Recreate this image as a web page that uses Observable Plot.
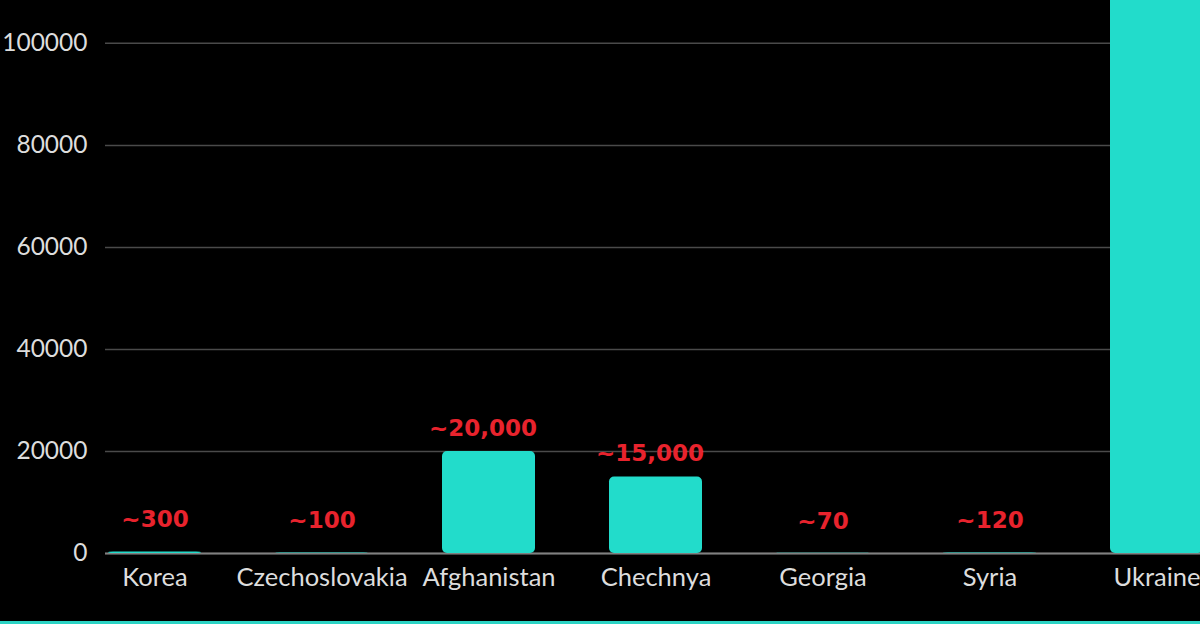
<!DOCTYPE html>
<html>
<head>
<meta charset="utf-8">
<script src="https://cdn.jsdelivr.net/npm/d3@7"></script>
<script src="https://cdn.jsdelivr.net/npm/@observablehq/plot@0.6"></script>
<style>
  html, body { margin: 0; padding: 0; background: #000; overflow: hidden; }
  #chart { width: 1200px; height: 621px; }
  #bottomline { width: 1200px; height: 3px; background: #2bd3c4; }
</style>
</head>
<body>
<div id="chart"></div>
<div id="bottomline"></div>
<script>
const conflicts = ["Korea", "Czechoslovakia", "Afghanistan", "Chechnya", "Georgia", "Syria", "Ukraine"];
const deaths = [300, 100, 20000, 15000, 70, 120, 120000];
const valueLabels = ["~300", "~100", "~20,000", "~15,000", "~70", "~120", ""];
const yTicks = [0, 20000, 40000, 60000, 80000, 100000];

const data = conflicts.map((c, i) => ({conflict: c, value: deaths[i], label: valueLabels[i]}));
const big = data.filter(d => d.label && d.value >= 1000);
const small = data.filter(d => d.label && d.value < 1000);

const chart = Plot.plot({
  width: 1200,
  height: 621,
  marginLeft: 105,
  marginRight: 0,
  marginTop: 0,
  marginBottom: 68,
  style: {background: "#000", color: "#ddd", fontFamily: "Lato, sans-serif", overflow: "hidden"},
  x: {domain: conflicts, range: [30.5, 1281], padding: 0.446, label: null},
  y: {domain: [0, 108400], label: null},
  marks: [
    Plot.gridY(yTicks, {stroke: "#4a4a4a", strokeOpacity: 1, strokeWidth: 1.5}),
    Plot.ruleY([0], {stroke: "#808080", strokeWidth: 2}),
    Plot.barY(data, {x: "conflict", y: "value", fill: "#22dccb", rx: 5, clip: true}),
    Plot.axisY(yTicks, {tickSize: 0, tickPadding: 18, fontSize: 24.5, fill: "#ddd", label: null, tickFormat: d => String(d)}),
    Plot.axisX({tickSize: 0, tickPadding: 14, fontSize: 25.5, fill: "#ddd", label: null}),
    Plot.text(big, {x: "conflict", y: "value", text: "label", dx: -6, dy: -23, fill: "#e8232d", fontSize: 23, fontWeight: "bold", fontFamily: "DejaVu Sans, sans-serif"}),
    Plot.text(small, {x: "conflict", y: "value", text: "label", dy: -32, fill: "#e8232d", fontSize: 23, fontWeight: "bold", fontFamily: "DejaVu Sans, sans-serif"})
  ]
});
document.getElementById("chart").appendChild(chart);
</script>
</body>
</html>
